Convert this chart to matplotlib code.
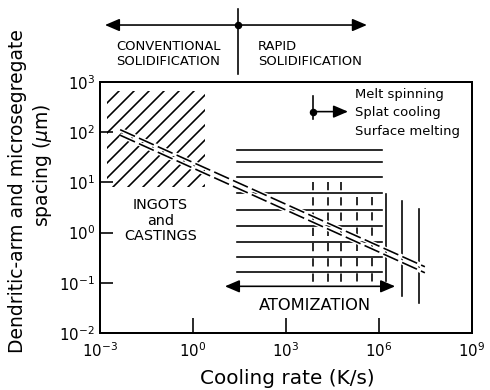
import matplotlib
matplotlib.use('Agg')
import matplotlib.pyplot as plt
from matplotlib.transforms import blended_transform_factory

plt.rcParams['font.family'] = ['DejaVu Sans']
plt.rcParams['mathtext.fontset'] = 'dejavusans'
plt.rcParams['lines.scale_dashes'] = False
plt.rcParams['hatch.linewidth'] = 1.3

# ---------------- data ----------------
x_ticks = [1e-3, 1e0, 1e3, 1e6, 1e9]
x_tick_labels = [r'$10^{-3}$', r'$10^{0}$', r'$10^{3}$', r'$10^{6}$', r'$10^{9}$']
y_ticks = [1e-2, 1e-1, 1e0, 1e1, 1e2, 1e3]
y_tick_labels = [r'$10^{-2}$', r'$10^{-1}$', r'$10^{0}$', r'$10^{1}$', r'$10^{2}$', r'$10^{3}$']

# trend band (two parallel dashed lines)
trend_x = [10**-2.35, 10**7.48]
trend_upper = [10**2.05, 10**-0.68]
trend_lower = [10**1.94, 10**-0.80]

# ingots & castings (hatched region)
ingot_x = [10**-2.77, 10**0.39]
ingot_y = [10**0.9, 10**2.82]
ingot_label_xy = (10**-1.06, 10**0.24)

# atomization (horizontal lines)
atom_x = [10**1.42, 10**6.1]
atom_levels = [10**1.65, 10**1.40, 10**1.10, 10**0.78, 10**0.46,
               10**0.14, 10**-0.18, 10**-0.48, 10**-0.78]
atom_arrow_x = [10**1.03, 10**6.52]
atom_arrow_y = 10**-1.07
atom_label_xy = (10**3.94, 10**-1.45)

# dashed verticals
dash_x = [10**3.86, 10**4.34, 10**4.79, 10**5.30, 10**5.79]
dash_top = [10**1.0, 10**1.0, 10**1.0, 10**0.7, 10**0.7]
dash_bottom = [10**-1.0] * 5

# solid verticals
solid_x = [10**6.22, 10**6.75, 10**7.29]
solid_top = [10**0.76, 10**0.63, 10**0.47]
solid_bottom = [10**-0.97, 10**-1.27, 10**-1.41]

# methods key
key_x = 10**3.87
key_y = [10**2.26, 10**2.72]
key_dot_y = 10**2.41
key_arrow_end = 10**5.0
method_labels = ['Melt spinning', 'Splat cooling', 'Surface melting']
method_x = 10**5.23
method_y = [10**2.76, 10**2.40, 10**2.02]

# top regime annotation (x in data, y in axes fraction)
regime_arrow_x = [10**-2.84, 10**5.61]
regime_boundary_x = 10**1.45
regime_arrow_yfrac = 1.227
regime_line_yfrac = [1.03, 1.29]
conv_label_x = 10**-0.79
rapid_label_x = 10**2.10
regime_label_yfrac = 1.113

x_label = 'Cooling rate (K/s)'
y_label_lines = ['Dendritic-arm and microsegregate', 'spacing ($\\mu$m)']

# ---------------- figure ----------------
W, H = 490, 390
fig = plt.figure(figsize=(W / 90, H / 90), dpi=90)
ax = fig.add_axes([100 / W, 57 / H, 372 / W, 251 / H])
ax.set_xscale('log')
ax.set_yscale('log')
ax.set_xlim(x_ticks[0], x_ticks[-1])
ax.set_ylim(y_ticks[0], y_ticks[-1])
ax.set_xticks(x_ticks)
ax.set_xticklabels(x_tick_labels)
ax.set_yticks(y_ticks)
ax.set_yticklabels(y_tick_labels)
ax.minorticks_off()
ax.tick_params(axis='x', direction='in', length=12, width=1.3, pad=7, labelsize=12)
ax.tick_params(axis='y', direction='in', length=10, width=1.3, pad=4, labelsize=12)
for s in ax.spines.values():
    s.set_linewidth(1.6)

fig.text(287 / W, 1 - 378 / H, x_label, ha='center', va='center', fontsize=16)
fig.text(18 / W, 1 - 191 / H, y_label_lines[0], ha='center', va='center', fontsize=15,
         rotation=90)
fig.text(43 / W, 1 - 165 / H, y_label_lines[1], ha='center', va='center', fontsize=15,
         rotation=90)

lw = 1.3
# hatched region
ax.fill_between(ingot_x, ingot_y[0], ingot_y[1], facecolor='none', edgecolor='black',
                linewidth=0, hatch='//', zorder=1)
ax.text(*ingot_label_xy, 'INGOTS\nand\nCASTINGS', ha='center', va='center', fontsize=11.5,
        linespacing=1.15)

# atomization horizontal lines
for yv in atom_levels:
    ax.plot(atom_x, [yv, yv], color='black', lw=lw, zorder=2)
for xv, yt, yb in zip(dash_x, dash_top, dash_bottom):
    ax.plot([xv, xv], [yt, yb], color='black', lw=lw, dashes=(6.6, 5.6), zorder=2)
for xv, yt, yb in zip(solid_x, solid_top, solid_bottom):
    ax.plot([xv, xv], [yt, yb], color='black', lw=lw, zorder=2)

ax.annotate('', xy=(atom_arrow_x[1], atom_arrow_y), xytext=(atom_arrow_x[0], atom_arrow_y),
            arrowprops=dict(arrowstyle='<|-|>,head_length=0.7,head_width=0.3',
                            color='black', lw=lw, shrinkA=0, shrinkB=0, mutation_scale=14),
            zorder=3)
ax.text(*atom_label_xy, 'ATOMIZATION', ha='center', va='center', fontsize=13)

# trend band
for yy in (trend_upper, trend_lower):
    ax.plot(trend_x, yy, color='white', lw=3.5, zorder=4, solid_capstyle='butt')
for yy in (trend_upper, trend_lower):
    ax.plot(trend_x, yy, color='black', lw=lw, dashes=(13, 3.5), zorder=5)

# key
ax.plot([key_x, key_x], key_y, color='black', lw=lw, zorder=3)
ax.plot([key_x], [key_dot_y], 'o', color='black', ms=5, zorder=3)
ax.annotate('', xy=(key_arrow_end, key_dot_y), xytext=(key_x, key_dot_y),
            arrowprops=dict(arrowstyle='-|>,head_length=0.7,head_width=0.3',
                            color='black', lw=lw, shrinkA=0, shrinkB=0, mutation_scale=14))
for lab, yv in zip(method_labels, method_y):
    ax.text(method_x, yv, lab, ha='left', va='center', fontsize=10.5)

# regime annotation above axes
tr = blended_transform_factory(ax.transData, ax.transAxes)
ax.annotate('', xy=(regime_arrow_x[1], regime_arrow_yfrac), xycoords=tr,
            xytext=(regime_arrow_x[0], regime_arrow_yfrac), textcoords=tr,
            arrowprops=dict(arrowstyle='<|-|>,head_length=0.7,head_width=0.3',
                            color='black', lw=lw, shrinkA=0, shrinkB=0, mutation_scale=14),
            annotation_clip=False)
ax.plot([regime_boundary_x, regime_boundary_x], regime_line_yfrac, color='black', lw=lw,
        transform=tr, clip_on=False)
ax.plot([regime_boundary_x], [regime_arrow_yfrac], 'o', color='black', ms=5,
        transform=tr, clip_on=False)
ax.text(conv_label_x, regime_label_yfrac, 'CONVENTIONAL\nSOLIDIFICATION', transform=tr,
        ha='center', va='center', fontsize=10.5, linespacing=1.2)
ax.text(rapid_label_x, regime_label_yfrac, 'RAPID\nSOLIDIFICATION', transform=tr,
        ha='left', va='center', fontsize=10.5, linespacing=1.2)

fig.savefig('out.png', dpi=90)
